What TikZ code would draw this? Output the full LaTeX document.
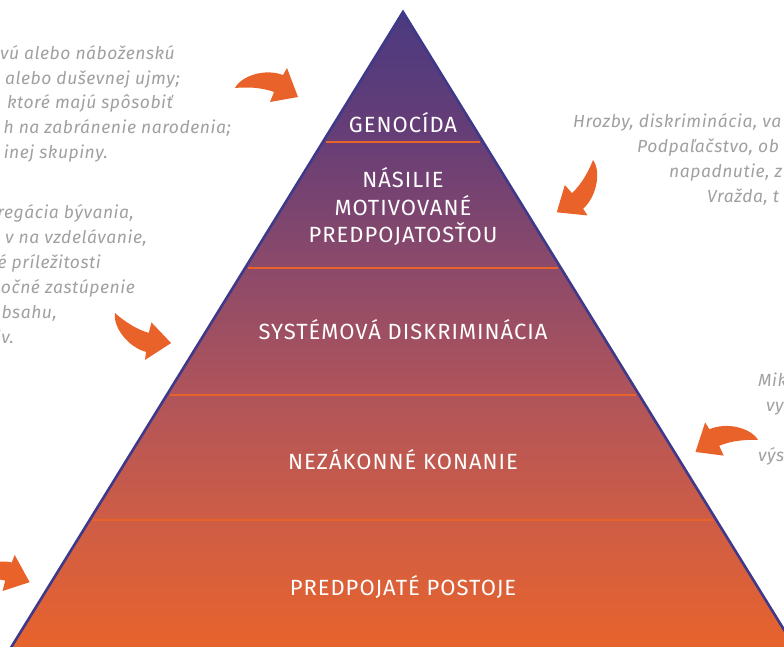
\documentclass[tikz,border=0pt]{standalone}
\usepackage{fontspec}
\setmainfont{Fira Sans}
\newfontfamily\levelfont{Fira Sans}[LetterSpace=4.5]
\newfontfamily\notefont{Fira Sans}[LetterSpace=3]
\usetikzlibrary{calc}
\definecolor{pyredge}{RGB}{62,57,136}
\definecolor{arroworange}{RGB}{232,98,42}
\definecolor{notegray}{RGB}{160,160,160}
\definecolor{pyr0}{RGB}{75,58,128}
\definecolor{pyr1}{RGB}{104,62,118}
\definecolor{pyr2}{RGB}{140,74,106}
\definecolor{pyr3}{RGB}{176,84,90}
\definecolor{pyr4}{RGB}{206,93,70}
\definecolor{pyr5}{RGB}{232,99,44}
\tikzset{
  levellabel/.style={text=white, font=\levelfont\fontsize{22}{27.5}\selectfont, align=center, anchor=base, inner sep=0pt},
  note/.style={text=notegray, font=\notefont\itshape\fontsize{17.5}{20}\selectfont, inner sep=0pt},
  divider/.style={arroworange, line width=1.6pt, shorten <=3pt, shorten >=3pt},
  pyrline/.style={pyredge, line width=2.6pt, line join=miter},
  bendarrow/.pic={
    \fill[arroworange] (0,0) .. controls (6,-12) and (30,-20) .. (48,-13)
      -- (52,-20) -- (63,9) -- (35,14) -- (39,4)
      .. controls (26,-1) and (10,-1) .. (0,0) -- cycle;
  }
}

\begin{document}
\begin{tikzpicture}[x=1pt, y=-1pt]
  \useasboundingbox (0,0) rectangle (784,646);
  \clip (0,0) rectangle (784,646);
  \coordinate (apex) at (403,12);
  \coordinate (baseL) at (9.5,650);
  \coordinate (baseR) at (796.5,650);
  % level borders
  \foreach \y [count=\i] in {12,142,268,395,520,650} {
    \coordinate (L\i) at ($(apex)!{(\y-12)/638}!(baseL)$);
    \coordinate (R\i) at ($(apex)!{(\y-12)/638}!(baseR)$);
  }
  \foreach \i/\j/\ca/\cb in {1/2/pyr0/pyr1, 2/3/pyr1/pyr2, 3/4/pyr2/pyr3, 4/5/pyr3/pyr4, 5/6/pyr4/pyr5}
    \shade[top color=\ca, bottom color=\cb] (L\i) -- (R\i) -- (R\j) -- (L\j) -- cycle;
  \foreach \i in {2,...,5}
    \draw[divider] (L\i) -- (R\i);
  \draw[pyrline] (baseL) -- (apex) -- (baseR);

  % levels
  \node[levellabel] (genocida) at (403,132.5) {GENOCÍDA};
  \node[levellabel] (nasilie) at (403,242.5) {NÁSILIE\\MOTIVOVANÉ\\PREDPOJATOSŤOU};
  \node[levellabel] (systemova) at (403,339.5) {SYSTÉMOVÁ DISKRIMINÁCIA};
  \node[levellabel] (nezakonne) at (403,469.5) {NEZÁKONNÉ KONANIE};
  \node[levellabel] (postoje) at (403,595.5) {PREDPOJATÉ POSTOJE};

  % side notes
  \foreach \txt/\xe/\yb [count=\i] in {vú alebo náboženskú/175/59, alebo duševnej ujmy;/180/84,
      ktoré majú spôsobiť/173/108, h na zabránenie narodenia;/231/133, inej skupiny./108/158}
    \node[note, anchor=base east] (genonote\i) at (\xe,\yb) {\txt};
  \foreach \txt/\xe/\yb [count=\i] in {{regácia bývania,}/134/218, {v na vzdelávanie,}/147/243,
      é príležitosti/101/268, očné zastúpenie/135/293, {obsahu,}/57/318, iv./14/343}
    \node[note, anchor=base east] (systnote\i) at (\xe,\yb) {\txt};
  \foreach \txt/\xs/\yb [count=\i] in {{Hrozby, diskriminácia, va}/573/127, {Podpaľačstvo, ob}/637/152,
      {napadnutie, z}/669/177, {Vražda, t}/707/202}
    \node[note, anchor=base west] (nasnote\i) at (\xs,\yb) {\txt};
  \foreach \txt/\xs/\yb [count=\i] in {Mik/758/386, vy/766/411, výs/758/461}
    \node[note, anchor=base west] (konnote\i) at (\xs,\yb) {\txt};

  % arrows
  \pic at (235,88) {bendarrow};
  \pic[rotate=-116.6] at (593,160) {bendarrow};
  \pic[rotate=-36.3, yscale=-1] at (115,313) {bendarrow};
  \pic[rotate=-177.3, yscale=-1] at (758,440) {bendarrow};
  \pic[rotate=8] at (-34,582) {bendarrow};
\end{tikzpicture}
\end{document}
